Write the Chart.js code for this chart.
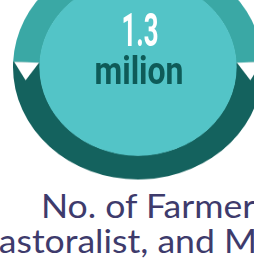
<!DOCTYPE html>
<html>
<head>
<meta charset="utf-8">
<script src="https://cdn.jsdelivr.net/npm/chart.js@4"></script>
<style>
  html, body { margin:0; padding:0; width:254px; height:268px; overflow:hidden; background:#ffffff; }
  #wrap { position:absolute; left:13px; top:-58px; width:250px; height:250px; transform:scaleY(0.9); transform-origin:50% 50%; }
  .t { position:absolute; white-space:nowrap; line-height:1; transform-origin:0 0; }
  #big { font-family: Roboto, "Liberation Sans", sans-serif; font-weight:700; font-size:46px; color:#ffffff; left:140px; top:7px; transform:scaleX(0.56) translateX(-50%); }
  #unit { font-family: Roboto, "Liberation Sans", sans-serif; font-weight:700; font-size:39px; color:#0e5b58; left:139px; top:52px; transform:scaleX(0.82) translateX(-50%); }
  .cap { font-family: Lato, "Open Sans", sans-serif; font-weight:400; font-size:32px; color:#3e3b6c; }
</style>
</head>
<body>
<div id="wrap"><canvas id="c" width="250" height="250"></canvas></div>
<div class="t" id="big">1.3</div>
<div class="t" id="unit">milion</div>
<div class="t cap" id="l1" style="top:190px;">No. of Farmers,</div>
<div class="t cap" id="l2" style="top:225px;">Pastoralist, and Mixed</div>
<div class="t cap" id="l3" style="top:264px;">farmers reached in Mali</div>
<script>
// Data
const categories = ['Upper arc', 'Lower arc'];
const values = [48.5, 51.5];
const segmentColors = ['#3aa8a5', '#14625e'];
const innerColor = '#53c4c7';

const innerAndArrows = {
  id: 'innerAndArrows',
  afterDatasetsDraw(chart) {
    const ctx = chart.ctx;
    const meta = chart.getDatasetMeta(0);
    const a0 = meta.data[0];
    const cx = a0.x, cy = a0.y;
    const rIn = a0.innerRadius, rOut = a0.outerRadius;
    ctx.save();
    ctx.fillStyle = innerColor;
    ctx.beginPath();
    ctx.arc(cx, cy, rIn + 0.5, 0, Math.PI * 2);
    ctx.fill();
    const marks = [
      { ang: a0.startAngle, dir: -1 },
      { ang: a0.endAngle, dir: 1 }
    ];
    ctx.fillStyle = '#ffffff';
    marks.forEach(m => {
      const ux = Math.cos(m.ang), uy = Math.sin(m.ang);
      const tx = -uy * m.dir, ty = ux * m.dir;
      const r1 = rOut - 1, r2 = rIn + 1, rm = (r1 + r2) / 2, h = 20;
      ctx.beginPath();
      ctx.moveTo(cx + ux * r1, cy + uy * r1);
      ctx.lineTo(cx + ux * r2, cy + uy * r2);
      ctx.lineTo(cx + ux * rm + tx * h, cy + uy * rm + ty * h);
      ctx.closePath();
      ctx.fill();
    });
    ctx.restore();
  }
};

new Chart(document.getElementById('c'), {
  type: 'doughnut',
  data: {
    labels: categories,
    datasets: [{ data: values, backgroundColor: segmentColors, borderWidth: 0, hoverOffset: 0 }]
  },
  options: {
    responsive: false,
    maintainAspectRatio: false,
    animation: false,
    events: [],
    rotation: -87.3,
    cutout: '78.5%',
    layout: { padding: 0 },
    plugins: { legend: { display: false }, tooltip: { enabled: false } }
  },
  plugins: [innerAndArrows]
});

// caption layout: widen the Lato text to the geometric face proportions
const mc = document.createElement('canvas').getContext('2d');
mc.font = '400 32px Lato, "Open Sans", sans-serif';
const s = 202 / mc.measureText('No. of Farme').width;
const l1 = document.getElementById('l1'), l2 = document.getElementById('l2'), l3 = document.getElementById('l3');
[l1, l2, l3].forEach(el => el.style.transform = 'scaleX(' + s.toFixed(3) + ')');
l1.style.left = '41px';
l2.style.left = (-(mc.measureText('P').width * s) - 1) + 'px';
l3.style.left = (242 - mc.measureText('farmers reached in Mali').width * s) + 'px';
</script>
</body>
</html>
